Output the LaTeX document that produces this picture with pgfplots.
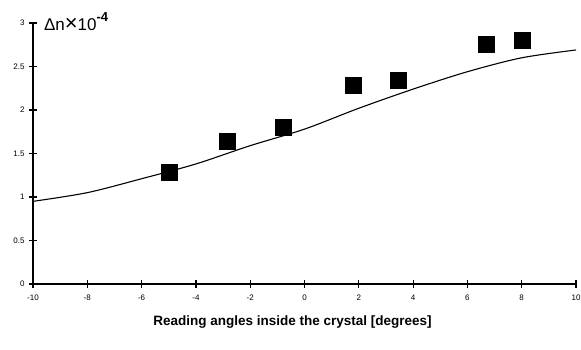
\documentclass[border=0pt]{standalone}
\usepackage{fontspec}
\setmainfont{Liberation Sans}
\usepackage{pgfplots}
\pgfplotsset{compat=1.18}
\begin{document}
\begin{tikzpicture}[x=1pt,y=1pt]
\useasboundingbox (0,0) rectangle (581,350);
\begin{axis}[
  at={(33pt,66pt)}, anchor=south west,
  scale only axis, width=543pt, height=261pt,
  xmin=-10, xmax=10, ymin=0, ymax=3,
  axis lines*=left,
  axis line style={-, line width=1.2pt},
  xtick={-10,-8,...,10}, ytick={0,0.5,...,3},
  xtick align=center, ytick align=center, major tick length=8pt,
  xtick pos=bottom, ytick pos=left,
  major tick style={draw=black, line width=1.2pt},
  tick label style={font=\fontsize{8}{9}\selectfont},
  /pgf/number format/assume math mode=true,
  xticklabel style={yshift=-3pt},
  yticklabel style={xshift=-1pt},
  xlabel={\textbf{Reading angles inside the crystal [degrees]}},
  xlabel style={font=\fontsize{13.5}{15}\selectfont, yshift=-9pt, xshift=-12pt},
  clip=false,
]
\addplot[black, line width=1.1pt, smooth, no markers] coordinates {
(-10,0.95) (-8,1.05) (-6,1.21) (-4,1.38) (-2,1.59) (0,1.78) (2,2.02) (4,2.24) (6,2.44) (8,2.60) (10,2.69)
};
\addplot[only marks, mark=square*, mark size=8pt, black] coordinates {
(-5,1.29) (-2.85,1.64) (-0.8,1.80) (1.8,2.29) (3.45,2.34) (6.7,2.76) (8,2.80)
};
\node[anchor=base west, font=\fontsize{17}{18}\selectfont, inner sep=0pt] at (rel axis cs:0.02,0.97) {Δn{\fontsize{22}{22}\selectfont ×}10\raisebox{9pt}{\fontsize{13}{13}\selectfont\bfseries -4}};
\end{axis}
\end{tikzpicture}
\end{document}
